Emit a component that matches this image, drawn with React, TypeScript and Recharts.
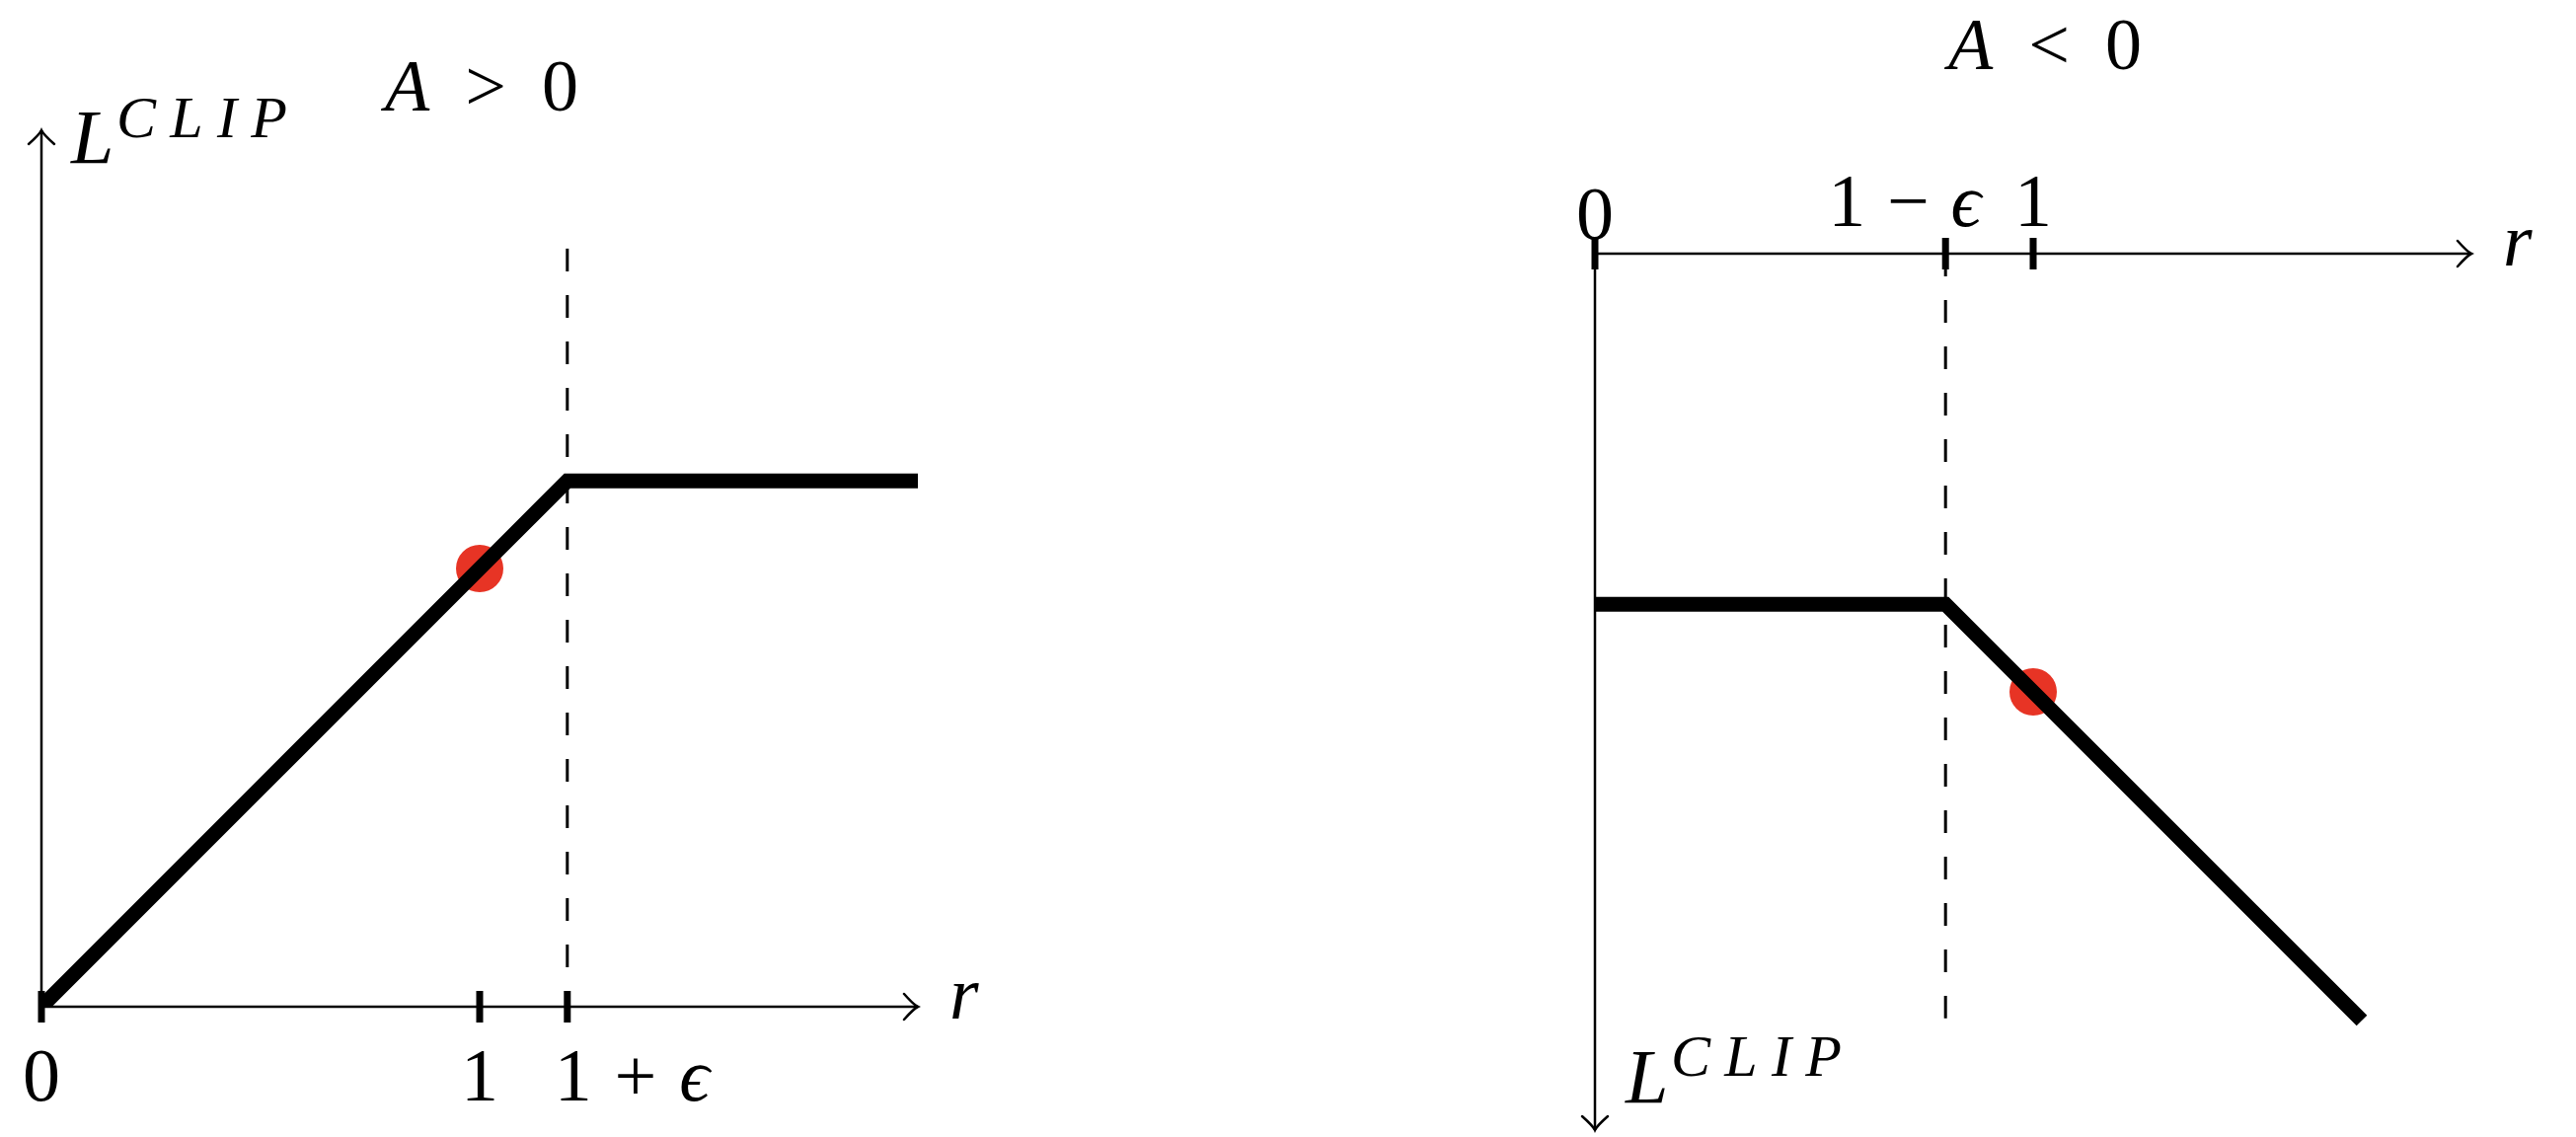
import React from "react";
import { LineChart, Line, XAxis, YAxis, ReferenceLine, Customized } from "recharts";

// A > 0 panel
const posR = [0, 1.2, 2];
const posL = [0, 1.2, 1.2];
const posDotR = [1];
const posDotL = [1];
const posTicks = [0, 1, 1.2];
const posTickLabels = ["0", "1", "1 + ϵ"];
const posDashTop = 1.73;

// A < 0 panel
const negR = [0, 0.8, 1.75];
const negL = [-0.8, -0.8, -1.75];
const negDotR = [1];
const negDotL = [-1];
const negTicks = [0, 0.8, 1];
const negTickLabels = ["0", "1 − ϵ", "1"];
const negDashBottom = -1.745;

const titles = ["A > 0", "A < 0"];
const xName = "r";
const yName = "L";
const ySup = "CLIP";

const zip = (xs: number[], ys: number[]) => xs.map((r, i) => ({ r, L: ys[i] }));
const posLine = zip(posR, posL);
const negLine = zip(negR, negL);
const posDot = zip(posDotR, posDotL);
const negDot = zip(negDotR, negDotL);

const FONT = '"Liberation Serif", "DejaVu Serif", serif';
const RED = "#e73425";
const SIZE = 76;

// label placement relative to the tick (layout only)
const posTickLayout = [
  { anchor: "middle", dx: 0, dy: 95 },
  { anchor: "middle", dx: 0, dy: 95 },
  { anchor: "start", dx: -13, dy: 95, width: 157 },
];
const negTickLayout = [
  { anchor: "middle", dx: 0, dy: -15 },
  { anchor: "end", dx: 36, dy: -28, width: 155 },
  { anchor: "middle", dx: 0, dy: -28 },
];

// letters in italic (math style), digits and operators upright
function MathText({ text, x, y, anchor = "start", width, size = SIZE }: any) {
  const parts: { s: string; it: boolean }[] = [];
  for (const ch of text) {
    const it = /[A-Za-zϵ]/.test(ch);
    const last = parts[parts.length - 1];
    if (last && last.it === it) last.s += ch;
    else parts.push({ s: ch, it });
  }
  return (
    <text
      x={x}
      y={y}
      textAnchor={anchor}
      fontFamily={FONT}
      fontSize={size}
      fill="#000"
      style={{ whiteSpace: "pre" }}
      {...(width ? { textLength: width, lengthAdjust: "spacing" } : {})}
    >
      {parts.map((p, i) => (
        <tspan key={i} fontStyle={p.it ? "italic" : "normal"}>
          {p.s}
        </tspan>
      ))}
    </text>
  );
}

const makeTick = (ticks: number[], labels: string[], layout: any[]) => (props: any) => {
  const { x, y, payload } = props;
  const i = ticks.findIndex((t) => Math.abs(t - payload.value) < 1e-9);
  const lay = layout[i] || layout[0];
  return (
    <g>
      <line x1={x} x2={x} y1={y - 16} y2={y + 16} stroke="#000" strokeWidth={7} />
      <MathText x={x + lay.dx} y={y + lay.dy} anchor={lay.anchor} width={lay.width} text={labels[i] ?? ""} />
    </g>
  );
};

const posTick = makeTick(posTicks, posTickLabels, posTickLayout);
const negTick = makeTick(negTicks, negTickLabels, negTickLayout);

// axis line with a tikz-like "->" head and a label near its tip
const arrowShape = (label: (tx: number, ty: number) => React.ReactNode) => (p: any) => {
  const { x1, y1, x2, y2 } = p;
  const len = Math.hypot(x2 - x1, y2 - y1) || 1;
  const ux = (x2 - x1) / len;
  const uy = (y2 - y1) / len;
  const px = -uy;
  const py = ux;
  const back = 14;
  const side = 13;
  const ax = x2 - back * ux + side * px;
  const ay = y2 - back * uy + side * py;
  const bx = x2 - back * ux - side * px;
  const by = y2 - back * uy - side * py;
  const c1x = x2 - back * 0.3 * ux + side * 0.15 * px;
  const c1y = y2 - back * 0.3 * uy + side * 0.15 * py;
  const c2x = x2 - back * 0.3 * ux - side * 0.15 * px;
  const c2y = y2 - back * 0.3 * uy - side * 0.15 * py;
  return (
    <g>
      <line x1={x1} y1={y1} x2={x2} y2={y2} stroke="#000" strokeWidth={2.5} />
      <path
        d={`M${ax},${ay} Q${c1x},${c1y} ${x2},${y2} Q${c2x},${c2y} ${bx},${by}`}
        fill="none"
        stroke="#000"
        strokeWidth={2.5}
        strokeLinecap="round"
      />
      {label(x2, y2)}
    </g>
  );
};

const rLabel = (tx: number, ty: number) => <MathText x={tx + 32} y={ty + 12} text={xName} />;

const lLabel = (dx: number, dy: number, supDy: number) => (tx: number, ty: number) => (
  <g>
    <MathText x={tx + dx} y={ty + dy} size={78} text={yName} />
    <MathText x={tx + dx + 46} y={ty + dy + supDy} size={60} width={173} text={ySup} />
  </g>
);

const redDot = (p: any) =>
  p.cx == null ? <g key={p.key} /> : <circle key={p.key} cx={p.cx} cy={p.cy} r={24} fill={RED} />;

const Title = ({ x, y, text }: any) => () => (
  <MathText x={x} y={y} anchor="middle" width={196} size={74} text={text} />
);

export default function App() {
  return (
    <div style={{ position: "absolute", left: 0, top: 0, width: 2610, height: 1152, background: "#fff" }}>
      <div style={{ position: "absolute", left: 0, top: 0 }}>
        <LineChart width={1300} height={1152} margin={{ top: 132, left: 42, right: 370, bottom: 131 }}>
          <XAxis
            type="number"
            dataKey="r"
            domain={[0, 2]}
            ticks={posTicks}
            interval={0}
            axisLine={false}
            tickLine={false}
            tickSize={0}
            tickMargin={0}
            height={1}
            tick={posTick}
            allowDataOverflow
          />
          <YAxis type="number" dataKey="L" domain={[0, 2]} hide allowDataOverflow />
          <ReferenceLine
            segment={[{ x: 1.2, y: posDashTop }, { x: 1.2, y: 0 }]}
            stroke="#000"
            strokeWidth={3}
            strokeDasharray="23 24"
          />
          <ReferenceLine segment={[{ x: 0, y: 0 }, { x: 2, y: 0 }]} shape={arrowShape(rLabel)} />
          <ReferenceLine segment={[{ x: 0, y: 0 }, { x: 0, y: 2 }]} shape={arrowShape(lLabel(30, 33, -26))} />
          <Line
            data={posDot}
            dataKey="L"
            stroke="none"
            dot={redDot}
            activeDot={false}
            zIndex={100}
            isAnimationActive={false}
          />
          <Line
            data={posLine}
            dataKey="L"
            stroke="#000"
            strokeWidth={15}
            dot={false}
            activeDot={false}
            zIndex={1500}
            isAnimationActive={false}
          />
          <Customized component={Title({ x: 488, y: 112, text: titles[0] })} />
        </LineChart>
      </div>
      <div style={{ position: "absolute", left: 1300, top: 0 }}>
        <LineChart width={1310} height={1152} margin={{ top: 256, left: 316, right: 106, bottom: 7 }}>
          <XAxis
            type="number"
            dataKey="r"
            orientation="top"
            domain={[0, 2]}
            ticks={negTicks}
            interval={0}
            axisLine={false}
            tickLine={false}
            tickSize={0}
            tickMargin={0}
            height={1}
            tick={negTick}
            allowDataOverflow
          />
          <YAxis type="number" dataKey="L" domain={[-2, 0]} hide allowDataOverflow />
          <ReferenceLine
            segment={[{ x: 0.8, y: 0 }, { x: 0.8, y: negDashBottom }]}
            stroke="#000"
            strokeWidth={3}
            strokeDasharray="23 24"
          />
          <ReferenceLine segment={[{ x: 0, y: 0 }, { x: 2, y: 0 }]} shape={arrowShape(rLabel)} />
          <ReferenceLine segment={[{ x: 0, y: 0 }, { x: 0, y: -2 }]} shape={arrowShape(lLabel(31, -28, -27))} />
          <Line
            data={negDot}
            dataKey="L"
            stroke="none"
            dot={redDot}
            activeDot={false}
            zIndex={100}
            isAnimationActive={false}
          />
          <Line
            data={negLine}
            dataKey="L"
            stroke="#000"
            strokeWidth={15}
            dot={false}
            activeDot={false}
            zIndex={1500}
            isAnimationActive={false}
          />
          <Customized component={Title({ x: 772, y: 70, text: titles[1] })} />
        </LineChart>
      </div>
    </div>
  );
}
